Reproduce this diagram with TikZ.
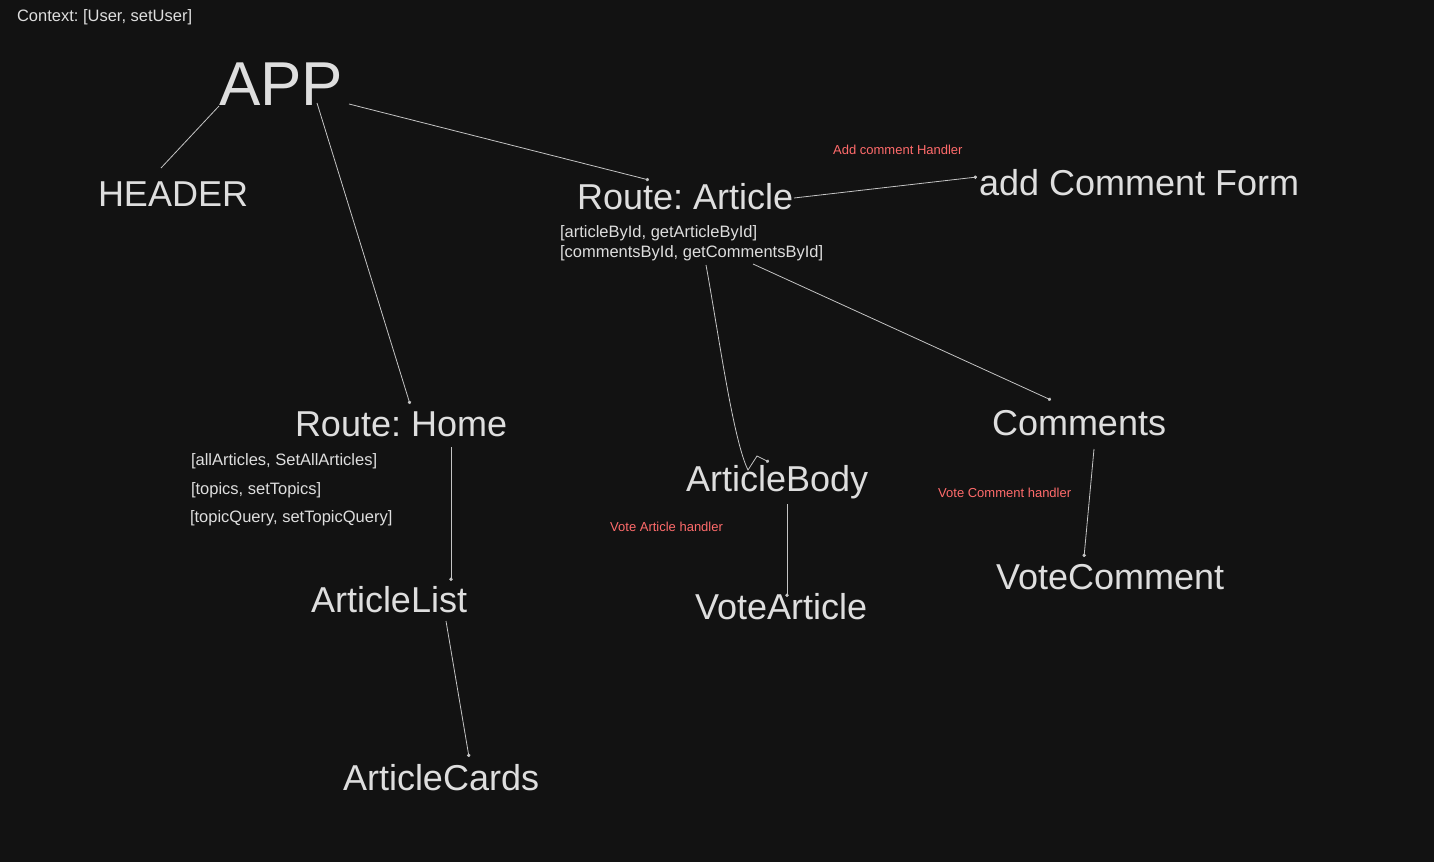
\documentclass[tikz,border=0pt]{standalone}
\usepackage{fontspec}
\setmainfont{Liberation Sans}
\usetikzlibrary{arrows.meta}
\definecolor{bg}{HTML}{121212}
\definecolor{fg}{HTML}{DEDEDE}
\definecolor{redtxt}{HTML}{FF6B6B}
\definecolor{ln}{HTML}{C4C4C4}
\frenchspacing
\begin{document}
\begin{tikzpicture}[x=1pt,y=-1pt,
  lbl/.style={anchor=base west,inner sep=0pt,outer sep=0pt,text=fg},
  huge/.style={lbl,font=\fontsize{62}{70}\selectfont},
  big/.style={lbl,font=\fontsize{36}{40}\selectfont},
  small/.style={lbl,font=\fontsize{16.5}{19}\selectfont},
  note/.style={anchor=base west,inner sep=0pt,text=redtxt,font=\fontsize{13}{15}\selectfont},
  link/.style={draw=ln,line width=0.8pt},
  dotlink/.style={link,-{Circle[length=3.4pt]}}]
\fill[bg] (0,0) rectangle (1434,862);
\useasboundingbox (0,0) rectangle (1434,862);

% texts
\node[small] (ctx) at (17,21) {Context: [User, setUser]};
\node[huge] (app) at (219,105) {APP};
\node[big] (header) at (98,206) {HEADER};
\node[big] (rart) at (577,209) {Route: Article};
\node[small] (rartA) at (560,237) {[articleById, getArticleById]};
\node[small] (rartB) at (560,257) {[commentsById, getCommentsById]};
\node[big] (acf) at (979,195) {add Comment Form};
\node[note] (ach) at (833,154) {Add comment Handler};
\node[big] (rhome) at (295,436) {Route: Home};
\node[small] (rhA) at (191,465) {[allArticles, SetAllArticles]};
\node[small] (rhB) at (191,494) {[topics, setTopics]};
\node[small] (rhC) at (190,522) {[topicQuery, setTopicQuery]};
\node[big] (abody) at (686,491) {ArticleBody};
\node[big] (comments) at (992,435) {Comments};
\node[note] (vch) at (938,497) {Vote Comment handler};
\node[note] (vah) at (610,531) {Vote Article handler};
\node[big] (vcomment) at (996,589) {VoteComment};
\node[big] (alist) at (311,612) {ArticleList};
\node[big] (vart) at (695,619) {VoteArticle};
\node[big] (acards) at (343,790) {ArticleCards};

% connector end points
\coordinate (appL) at (219,106);
\coordinate (hdrT) at (161,168);
\coordinate (appB) at (317,103);
\coordinate (homeT) at (410,404);
\coordinate (appR) at (349,104);
\coordinate (rartT) at (649,180);
\coordinate (rartR) at (794,198);
\coordinate (acfL) at (977,177);
\coordinate (rartB1) at (706,265);
\coordinate (abT1) at (748,470);
\coordinate (abT2) at (757,456);
\coordinate (abT3) at (769,462);
\coordinate (rartB2) at (753,264);
\coordinate (comT) at (1051,400);
\coordinate (homeB) at (451,447);
\coordinate (alT) at (451,581);
\coordinate (alB) at (446,621);
\coordinate (acT) at (469,757);
\coordinate (abB) at (787,504);
\coordinate (vaT) at (787,597);
\coordinate (comB) at (1094,449);
\coordinate (vcT) at (1084,557);

% connectors
\draw[link] (appL) -- (hdrT);
\draw[dotlink] (appB) -- (homeT);
\draw[dotlink] (appR) -- (rartT);
\draw[dotlink] (rartR) -- (acfL);
\draw[dotlink] (rartB1) .. controls (718,330) and (733,440) .. (abT1) -- (abT2) -- (abT3);
\draw[dotlink] (rartB2) -- (comT);
\draw[dotlink] (homeB) -- (alT);
\draw[dotlink] (alB) -- (acT);
\draw[dotlink] (abB) -- (vaT);
\draw[dotlink] (comB) -- (vcT);
\end{tikzpicture}
\end{document}
